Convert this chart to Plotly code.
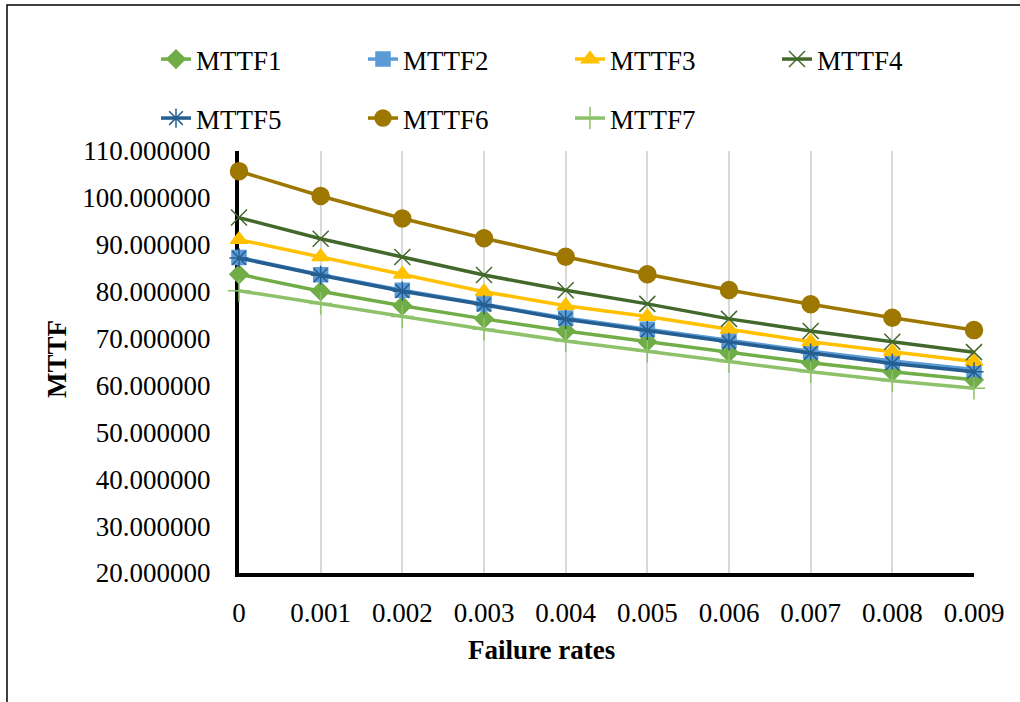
import plotly.graph_objects as go

failure_rates = [0, 0.001, 0.002, 0.003, 0.004, 0.005, 0.006, 0.007, 0.008, 0.009]
x_labels = ["0", "0.001", "0.002", "0.003", "0.004", "0.005", "0.006", "0.007", "0.008", "0.009"]

mttf1 = [83.7, 80.1, 77.0, 74.2, 71.6, 69.3, 67.0, 64.85, 62.9, 61.2]
mttf2 = [87.3, 83.6, 80.3, 77.4, 74.4, 72.0, 69.6, 67.3, 65.2, 63.4]
mttf3 = [91.1, 87.45, 83.7, 80.0, 77.0, 74.7, 72.0, 69.3, 67.2, 65.1]
mttf4 = [95.8, 91.3, 87.4, 83.55, 80.3, 77.4, 74.2, 71.6, 69.3, 67.1]
mttf5 = [87.2, 83.5, 80.1, 77.2, 74.1, 71.7, 69.2, 66.9, 64.7, 62.9]
mttf6 = [105.7, 100.4, 95.6, 91.4, 87.45, 83.7, 80.35, 77.3, 74.45, 71.8]
mttf7 = [80.2, 77.5, 74.7, 72.0, 69.5, 67.3, 65.1, 62.9, 61.0, 59.4]

series_names = ["MTTF1", "MTTF2", "MTTF3", "MTTF4", "MTTF5", "MTTF6", "MTTF7"]
series_values = [mttf1, mttf2, mttf3, mttf4, mttf5, mttf6, mttf7]
colors = ["#70AD47", "#5B9BD5", "#FFC000", "#43682B", "#255E91", "#9E7700", "#8DC26A"]
symbols = ["diamond", "square", "triangle-up", "x-thin-open", "asterisk-open", "circle", "cross-thin-open"]
sizes = [14, 14, 15, 16, 16, 17, 16]
legend_ids = ["legend", "legend", "legend", "legend", "legend2", "legend2", "legend2"]

FONT = "Liberation Serif"
FS = 27

fig = go.Figure()
for name, vals, col, sym, sz, lg in zip(series_names, series_values, colors, symbols, sizes, legend_ids):
    fig.add_trace(go.Scatter(
        x=failure_rates, y=vals, name=name, mode="lines+markers",
        line=dict(color=col, width=3.5),
        marker=dict(symbol=sym, size=sz, color=col, line=dict(color=col, width=1.5)),
        cliponaxis=False, legend=lg,
    ))

L, R, T, B = 239, 46, 151, 129
W, H = 1020, 702
pw, ph = W - L - R, H - T - B

def px_x(px):
    return (px - L) / pw

def px_y(py):
    return (H - B - py) / ph

fig.update_layout(
    width=W, height=H,
    margin=dict(l=L, r=R, t=T, b=B, autoexpand=False),
    paper_bgcolor="white", plot_bgcolor="white",
    font=dict(family=FONT, size=FS, color="black"),
    showlegend=True,
    legend=dict(orientation="h", x=px_x(156), y=px_y(35), xanchor="left", yanchor="top",
                entrywidth=162, font=dict(family=FONT, size=FS), bgcolor="rgba(0,0,0,0)"),
    legend2=dict(orientation="h", x=px_x(156), y=px_y(94), xanchor="left", yanchor="top",
                 entrywidth=162, font=dict(family=FONT, size=FS), bgcolor="rgba(0,0,0,0)"),
    xaxis=dict(range=[0, 0.009], tickvals=failure_rates, ticktext=x_labels,
               showgrid=True, gridcolor="#D9D9D9", gridwidth=1.5,
               showline=True, linecolor="black", linewidth=4, zeroline=False,
               ticks="", ticklabelstandoff=13, layer="below traces",
               tickfont=dict(family=FONT, size=FS)),
    yaxis=dict(range=[20, 110], dtick=10, tick0=20, tickformat=".6f",
               showgrid=False, showline=True, linecolor="black", linewidth=4,
               zeroline=False, ticks="", ticklabelstandoff=19, layer="below traces",
               tickfont=dict(family=FONT, size=FS)),
    annotations=[
        dict(text="<b>MTTF</b>", xref="paper", yref="paper", x=px_x(57), y=px_y(359),
             xanchor="center", yanchor="middle",
             textangle=-90, showarrow=False, font=dict(family=FONT, size=FS)),
        dict(text="<b>Failure rates</b>", xref="paper", yref="paper", x=px_x(541), y=px_y(650),
             xanchor="center", yanchor="middle",
             showarrow=False, font=dict(family=FONT, size=FS)),
    ],
    shapes=[dict(type="rect", xref="paper", yref="paper",
                 x0=px_x(7), x1=px_x(1040), y0=px_y(720), y1=px_y(5),
                 line=dict(color="black", width=1.5), fillcolor="rgba(0,0,0,0)", layer="below")],
)

fig.write_html("out.html")
